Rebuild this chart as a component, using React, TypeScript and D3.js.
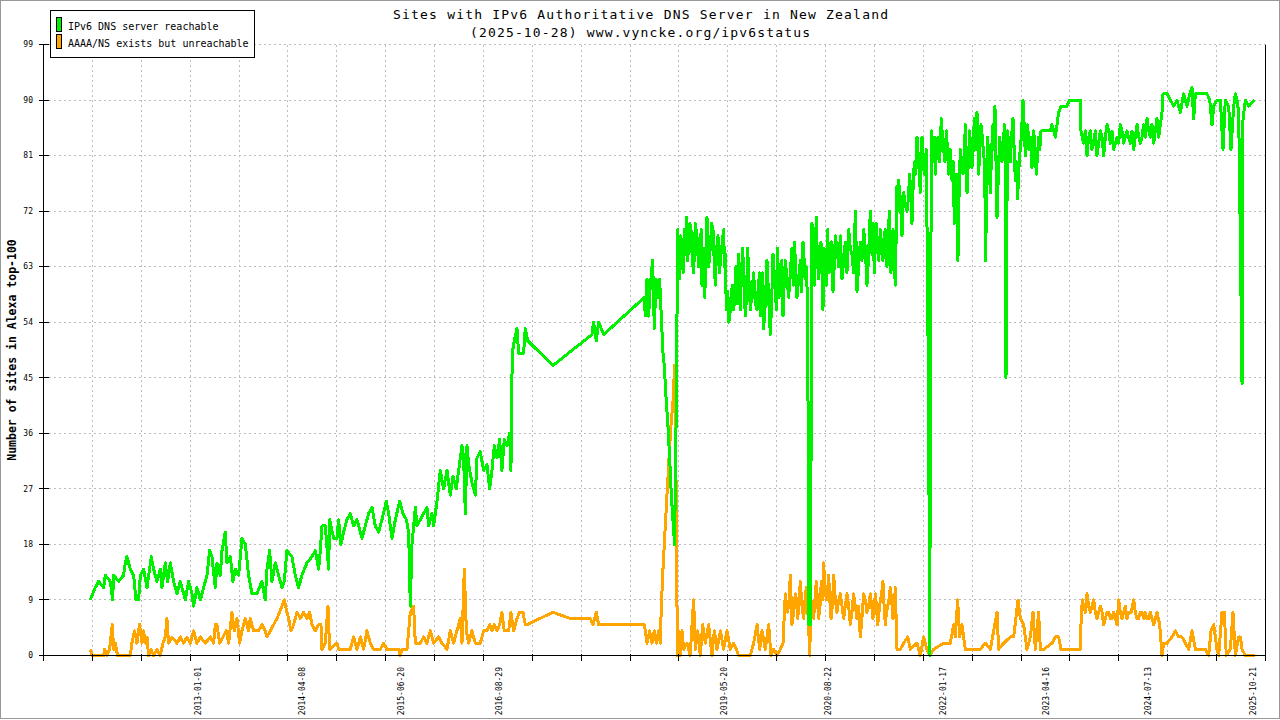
import React from 'react';
import * as d3 from 'd3';

// ---------- data ----------
const TITLE_LINES = [
  'Sites with IPv6 Authoritative DNS Server in New Zealand',
  '(2025-10-28) www.vyncke.org/ipv6status',
];
const Y_TITLE = 'Number of sites in Alexa top-100';
const SERIES_NAMES = ['IPv6 DNS server reachable', 'AAAA/NS exists but unreachable'];
const SERIES_COLORS = ['#00f000', '#ffa500'];

const X_DOMAIN_DATES = ['2011-02-15', '2025-12-14'];
const X_TICK_INTERVALS = 25;
const X_LABEL_DATES = [
  '2013-01-01', '2014-04-08', '2015-06-20', '2016-08-29', '2019-05-20',
  '2020-08-22', '2022-01-17', '2023-04-16', '2024-07-13', '2025-10-21',
];
const Y_MAX = 99;
const Y_TICKS = [0, 9, 18, 27, 36, 45, 54, 63, 72, 81, 90, 99];

// [decimal year, number of sites]
const reachable: [number, number][] = [
  [2011.691,9],[2011.751,11],[2011.792,12],[2011.853,11],[2011.873,13],[2011.934,12],[2011.962,9],[2011.974,13],[2012.035,12],[2012.095,13],[2012.116,15],[2012.136,16],[2012.176,14],[2012.217,13],[2012.245,9],[2012.277,9],[2012.298,13],[2012.338,14],[2012.379,11],[2012.431,16],[2012.459,14],[2012.500,12],[2012.540,14],[2012.560,11],[2012.601,15],[2012.629,12],[2012.662,15],[2012.702,12],[2012.743,10],[2012.783,12],[2012.844,9],[2012.884,12],[2012.925,10],[2012.945,8],[2012.985,11],[2013.026,9],[2013.066,11],[2013.107,13],[2013.139,17],[2013.167,16],[2013.208,11],[2013.228,15],[2013.268,13],[2013.289,17],[2013.329,20],[2013.349,15],[2013.390,16],[2013.422,12],[2013.450,14],[2013.491,13],[2013.531,19],[2013.572,18],[2013.612,13],[2013.653,10],[2013.713,10],[2013.774,12],[2013.814,9],[2013.835,14],[2013.867,17],[2013.895,12],[2013.936,15],[2013.976,13],[2014.017,11],[2014.045,12],[2014.077,17],[2014.138,16],[2014.178,13],[2014.219,11],[2014.259,13],[2014.320,15],[2014.381,16],[2014.421,17],[2014.462,14],[2014.482,17],[2014.502,21],[2014.543,21],[2014.583,14],[2014.595,22],[2014.644,19],[2014.684,19],[2014.704,22],[2014.733,18],[2014.765,20],[2014.805,22],[2014.846,23],[2014.886,21],[2014.927,22],[2014.988,19],[2015.028,21],[2015.068,23],[2015.109,24],[2015.149,21],[2015.190,20],[2015.230,22],[2015.283,25],[2015.311,23],[2015.352,19],[2015.392,22],[2015.445,25],[2015.485,23],[2015.526,22],[2015.554,20],[2015.574,8],[2015.594,18],[2015.635,24],[2015.655,21],[2015.695,22],[2015.736,23],[2015.776,24],[2015.796,21],[2015.837,23],[2015.857,21],[2015.898,25],[2015.938,30],[2015.978,27],[2016.019,30],[2016.059,26],[2016.092,29],[2016.132,27],[2016.161,30],[2016.201,34],[2016.221,32],[2016.242,23],[2016.262,34],[2016.282,31],[2016.322,28],[2016.363,26],[2016.383,32],[2016.423,33],[2016.464,30],[2016.504,31],[2016.537,27],
  [2016.565,30],[2016.593,34],[2016.625,32],[2016.658,35],[2016.686,30],[2016.714,35],[2016.747,34],[2016.779,36],[2016.795,30],[2016.811,49],[2016.836,51],[2016.868,53],[2016.888,49],[2016.949,49],[2016.969,53],[2016.998,51],[2017.305,47],[2017.778,52],[2017.798,54],[2017.831,51],[2017.859,54],[2017.920,52],[2018.413,58],[2018.425,55],[2018.446,61],[2018.466,55],[2018.486,60],[2018.514,64],[2018.535,53],[2018.555,61],[2018.579,58],[2018.599,61],[2018.616,56],[2018.640,49],[2018.656,47],[2018.676,42],[2018.701,37],[2018.721,32],[2018.741,26],[2018.761,22],[2018.781,18],[2018.802,41],[2018.818,69],[2018.842,61],[2018.870,66],[2018.899,69],[2018.923,71],[2018.951,66],[2018.980,69],[2019.012,62],[2019.052,68],[2019.093,66],[2019.113,60],[2019.146,58],[2019.174,71],[2019.214,66],[2019.247,69],[2019.275,60],[2019.307,68],[2019.344,65],[2019.376,69],[2019.396,65],[2019.408,56],[2019.437,54],[2019.465,58],[2019.497,56],[2019.526,63],[2019.558,65],[2019.578,56],[2019.607,66],[2019.639,55],[2019.667,66],[2019.700,56],[2019.740,62],[2019.781,56],[2019.813,62],[2019.841,58],[2019.861,53],[2019.902,64],[2019.942,52],[2019.975,65],[2020.003,59],[2020.031,66],[2020.064,61],[2020.096,55],[2020.124,64],[2020.165,58],[2020.205,66],[2020.234,67],[2020.266,58],[2020.306,64],[2020.339,67],[2020.367,61],[2020.395,56],[2020.411,5],[2020.428,5],[2020.448,70],[2020.476,60],[2020.500,71],[2020.529,61],[2020.557,67],[2020.581,56],[2020.610,63],[2020.638,69],[2020.670,64],[2020.703,59],[2020.731,68],[2020.772,63],[2020.812,61],[2020.852,67],[2020.893,69],[2020.933,65],[2020.974,72],[2020.994,59],[2021.034,67],[2021.075,69],[2021.115,60],
  [2021.156,72],[2021.176,65],[2021.204,62],[2021.228,70],[2021.257,64],[2021.277,69],[2021.309,64],[2021.338,69],[2021.358,63],[2021.386,72],[2021.406,62],[2021.431,69],[2021.459,60],[2021.479,76],[2021.499,77],[2021.540,68],[2021.560,75],[2021.601,72],[2021.633,78],[2021.661,70],[2021.690,80],[2021.722,84],[2021.762,75],[2021.783,84],[2021.811,78],[2021.835,82],[2021.863,41],[2021.876,0],[2021.896,85],[2021.924,82],[2021.944,78],[2021.977,84],[2022.017,87],[2022.045,82],[2022.078,85],[2022.106,78],[2022.147,77],[2022.175,70],[2022.199,78],[2022.219,64],[2022.248,82],[2022.280,78],[2022.308,86],[2022.329,75],[2022.361,85],[2022.389,79],[2022.418,87],[2022.450,88],[2022.470,78],[2022.499,86],[2022.531,81],[2022.555,64],[2022.579,84],[2022.612,75],[2022.644,86],[2022.668,89],[2022.693,71],[2022.725,84],[2022.753,80],[2022.782,86],[2022.802,45],[2022.822,85],[2022.854,80],[2022.887,87],[2022.915,77],[2022.943,74],[2022.968,81],[2023.008,90],[2023.037,81],[2023.065,86],[2023.097,84],[2023.117,79],[2023.138,85],[2023.170,78],[2023.198,84],[2023.227,85],[2023.340,85],[2023.360,86],[2023.401,84],[2023.421,86],[2023.441,88],[2023.469,89],[2023.542,89],[2023.571,90],[2023.704,90],[2023.712,85],[2023.744,83],[2023.785,81],[2023.825,85],[2023.866,83],[2023.906,81],[2023.947,85],[2023.987,81],[2024.028,86],[2024.068,83],[2024.108,82],[2024.149,84],[2024.189,86],[2024.230,83],[2024.270,85],[2024.311,83],[2024.351,82],[2024.392,86],[2024.432,83],[2024.472,86],[2024.513,87],[2024.553,84],[2024.594,83],[2024.634,87],[2024.675,86],[2024.695,88],[2024.707,91],[2024.756,91],[2024.796,90],[2024.837,89],[2024.877,90],[2024.917,88],[2024.958,91],[2024.998,89],[2025.031,91],[2025.059,92],[2025.079,87],[2025.100,91],[2025.241,91],[2025.274,90],[2025.302,86],[2025.322,89],[2025.362,90],[2025.403,90],[2025.435,82],[2025.463,90],[2025.504,89],[2025.532,82],[2025.565,89],[2025.585,91],[2025.605,90],[2025.625,88],[2025.646,67],[2025.666,44],[2025.678,87],[2025.706,90],[2025.747,89],[2025.820,90],
];

// additional readings in the densest, noisiest stretches of the reachable series
const reachableDense: [number, number][] = [
  [2018.830,64],[2018.856,68],[2018.885,62],[2018.911,65],[2018.937,64],[2018.966,70],[2018.996,64],[2019.032,70],[2019.072,63],[2019.103,69],[2019.130,66],[2019.160,64],[2019.194,63],[2019.230,70],[2019.261,64],[2019.291,66],[2019.325,62],[2019.360,67],[2019.386,63],
  [2019.422,59],[2019.451,55],[2019.481,60],[2019.511,58],[2019.542,57],[2019.568,60],[2019.592,62],[2019.623,60],[2019.653,58],[2019.683,61],[2019.720,59],[2019.760,57],[2019.797,60],[2019.827,55],[2019.851,62],[2019.881,57],[2019.922,58],[2019.958,57],[2019.989,62],[2020.017,56],[2020.047,58],[2020.080,64],[2020.110,60],[2020.145,61],[2020.185,62],[2020.220,60],[2020.250,63],[2020.286,61],[2020.322,59],[2020.353,64],[2020.381,63],
  [2020.462,64],[2020.488,65],[2020.514,64],[2020.543,64],[2020.569,62],[2020.595,66],[2020.624,60],[2020.654,62],[2020.686,67],[2020.717,63],[2020.751,66],[2020.792,68],[2020.832,64],[2020.872,62],[2020.913,66],[2020.953,62],[2020.984,66],[2021.014,63],[2021.054,64],[2021.095,66],[2021.135,65],
  [2021.166,67],[2021.190,70],[2021.216,68],[2021.242,66],[2021.267,66],[2021.293,66],[2021.323,68],[2021.348,65],[2021.372,67],[2021.396,66],[2021.418,66],[2021.445,64],[2021.469,68],[2021.489,72],[2021.520,74],[2021.550,72],[2021.580,73],[2021.617,74],[2021.647,75],[2021.675,76],[2021.706,78],[2021.742,80],[2021.772,80],[2021.797,80],[2021.823,80],
  [2021.910,80],[2021.934,84],[2021.960,82],[2021.997,80],[2022.031,84],[2022.061,80],[2022.092,82],[2022.126,82],[2022.161,80],[2022.187,76],[2022.209,74],[2022.234,76],[2022.264,80],[2022.294,80],[2022.318,82],[2022.345,80],[2022.375,82],[2022.404,82],[2022.434,82],[2022.460,84],[2022.485,82],[2022.515,84],[2022.543,80],[2022.567,76],[2022.596,80],[2022.628,82],[2022.656,82],[2022.681,80],[2022.709,78],[2022.739,82],[2022.768,82],[2022.792,80],[2022.812,70],[2022.838,82],[2022.870,84],[2022.901,82],[2022.929,80],[2022.955,78],[2022.988,84],[2023.022,86],[2023.051,83],[2023.081,82],[2023.107,82],[2023.127,82],[2023.154,82],[2023.184,81],[2023.212,82],
  [2023.728,84],[2023.765,85],[2023.805,84],[2023.845,82],[2023.886,85],[2023.926,83],[2023.967,84],[2024.008,84],[2024.048,85],[2024.088,85],[2024.129,83],[2024.169,83],[2024.210,85],[2024.250,84],[2024.290,84],[2024.331,85],[2024.371,84],[2024.412,84],[2024.452,84],[2024.492,84],[2024.533,85],[2024.573,86],[2024.614,85],[2024.655,84],
];

const unreachable: [number, number][] = [
  [2011.691,1],[2011.711,0],[2011.853,0],[2011.865,1],[2011.893,0],[2011.925,1],[2011.958,5],[2011.974,1],[2011.994,2],[2012.022,0],[2012.176,0],[2012.196,2],[2012.229,4],[2012.257,2],[2012.289,5],[2012.318,2],[2012.338,4],[2012.358,2],[2012.379,3],[2012.399,0],[2012.427,1],[2012.459,0],[2012.500,1],[2012.540,0],[2012.573,2],[2012.601,3],[2012.621,6],[2012.641,2],[2012.682,3],[2012.743,2],[2012.783,3],[2012.823,2],[2012.864,3],[2012.904,2],[2012.945,4],[2012.985,2],[2013.026,3],[2013.086,2],[2013.147,3],[2013.187,2],[2013.208,5],[2013.228,5],[2013.260,2],[2013.301,3],[2013.341,4],[2013.370,2],[2013.410,7],[2013.438,4],[2013.471,6],[2013.503,2],[2013.531,4],[2013.572,6],[2013.612,4],[2013.632,6],[2013.673,4],[2013.733,4],[2013.774,5],[2013.814,4],[2013.835,3],[2013.875,4],[2013.916,5],[2013.956,6],[2013.988,7],[2014.017,8],[2014.045,9],[2014.077,7],[2014.098,6],[2014.126,4],[2014.158,5],[2014.199,7],[2014.239,6],[2014.280,7],[2014.320,6],[2014.352,7],[2014.381,5],[2014.421,4],[2014.462,5],[2014.490,5],[2014.502,1],[2014.543,2],[2014.575,8],[2014.595,1],[2014.684,2],[2014.704,1],[2014.846,1],[2014.886,3],[2014.927,1],[2014.967,3],[2015.008,1],[2015.048,4],[2015.089,2],[2015.129,1],[2015.210,1],[2015.250,2],[2015.291,1],[2015.432,1],[2015.453,0],[2015.473,1],[2015.534,1],[2015.554,4],[2015.574,7],[2015.614,8],[2015.635,2],[2015.695,2],[2015.736,3],[2015.776,2],[2015.817,4],[2015.857,2],[2015.918,3],[2015.958,2],[2016.019,1],[2016.059,4],[2016.100,2],[2016.140,4],[2016.181,6],[2016.201,2],[2016.229,14],[2016.254,4],[2016.282,2],[2016.322,4],[2016.363,2],[2016.423,2],[2016.464,4],[2016.504,4],[2016.537,5],
  [2016.565,4],[2016.593,5],[2016.625,4],[2016.658,5],[2016.686,7],[2016.714,4],[2016.767,4],[2016.795,7],[2016.828,4],[2016.868,6],[2016.900,7],[2016.941,7],[2016.969,5],[2016.989,5],[2017.305,7],[2017.515,6],[2017.758,6],[2017.790,5],[2017.831,7],[2017.859,5],[2018.413,5],[2018.425,4],[2018.446,2],[2018.478,4],[2018.506,2],[2018.535,4],[2018.559,2],[2018.587,4],[2018.607,2],[2018.620,8],[2018.640,14],[2018.660,19],[2018.680,24],[2018.701,29],[2018.721,34],[2018.741,38],[2018.761,41],[2018.781,47],[2018.802,24],[2018.814,0],[2018.830,4],[2018.850,0],[2018.870,4],[2018.891,1],[2018.931,2],[2018.971,0],[2018.992,5],[2019.012,9],[2019.032,1],[2019.060,4],[2019.093,0],[2019.121,5],[2019.153,2],[2019.194,5],[2019.234,0],[2019.263,4],[2019.295,1],[2019.336,4],[2019.376,1],[2019.417,4],[2019.457,1],[2019.497,2],[2019.530,1],[2019.558,0],[2019.700,0],[2019.740,2],[2019.781,5],[2019.813,1],[2019.841,4],[2019.882,1],[2019.922,5],[2019.950,0],[2019.983,1],[2020.023,0],[2020.064,1],[2020.096,2],[2020.124,10],[2020.153,7],[2020.185,13],[2020.205,5],[2020.246,10],[2020.274,6],[2020.306,12],[2020.347,6],[2020.379,11],[2020.407,5],[2020.420,0],[2020.436,9],[2020.468,6],[2020.500,12],[2020.529,6],[2020.561,12],[2020.589,15],[2020.622,9],[2020.650,13],[2020.679,6],[2020.711,13],[2020.751,7],[2020.792,10],[2020.832,6],[2020.873,10],[2020.913,5],[2020.953,10],[2020.994,6],[2021.034,3],[2021.075,10],[2021.115,7],
  [2021.156,10],[2021.188,6],[2021.216,10],[2021.245,5],[2021.277,9],[2021.309,12],[2021.338,5],[2021.366,8],[2021.398,11],[2021.431,6],[2021.459,11],[2021.479,1],[2021.520,1],[2021.560,2],[2021.609,3],[2021.641,1],[2021.722,2],[2021.762,0],[2021.803,3],[2021.843,1],[2021.876,0],[2021.924,1],[2022.045,2],[2022.126,2],[2022.167,5],[2022.187,3],[2022.215,9],[2022.240,3],[2022.268,5],[2022.308,1],[2022.369,1],[2022.490,1],[2022.551,2],[2022.612,1],[2022.693,7],[2022.713,1],[2022.774,2],[2022.854,3],[2022.895,3],[2022.948,9],[2022.976,6],[2023.016,5],[2023.057,1],[2023.097,3],[2023.130,7],[2023.158,1],[2023.198,7],[2023.219,1],[2023.259,1],[2023.360,2],[2023.401,3],[2023.441,3],[2023.469,1],[2023.583,1],[2023.704,1],[2023.716,7],[2023.744,8],[2023.785,10],[2023.825,7],[2023.866,9],[2023.906,6],[2023.947,8],[2023.987,5],[2024.028,7],[2024.068,6],[2024.108,7],[2024.149,5],[2024.169,9],[2024.210,6],[2024.250,8],[2024.290,7],[2024.351,9],[2024.392,6],[2024.432,7],[2024.472,6],[2024.513,6],[2024.553,7],[2024.594,5],[2024.634,7],[2024.667,5],[2024.695,0],[2024.715,2],[2024.756,2],[2024.816,3],[2024.857,4],[2024.897,3],[2024.938,3],[2024.978,2],[2025.019,1],[2025.059,4],[2025.100,1],[2025.221,1],[2025.261,0],[2025.290,4],[2025.322,5],[2025.362,1],[2025.382,0],[2025.423,7],[2025.451,7],[2025.475,0],[2025.524,1],[2025.556,7],[2025.585,0],[2025.625,3],[2025.646,3],[2025.666,1],[2025.706,0],[2025.820,0],
];

// additional readings in the densest stretches of the unreachable series
const unreachableDense: [number, number][] = [
  [2020.138,8],[2020.169,9],[2020.195,9],[2020.226,7],[2020.260,9],[2020.290,8],[2020.327,8],[2020.363,9],[2020.393,8],[2020.452,8],[2020.484,9],[2020.514,9],[2020.545,8],[2020.575,9],[2020.606,11],[2020.636,10],[2020.664,9],[2020.695,8],[2020.731,9],[2020.772,9],[2020.812,8],[2020.852,8],[2020.893,8],[2020.933,7],[2020.974,8],[2021.014,8],[2021.054,6],[2021.095,9],[2021.135,8],[2021.172,8],[2021.202,7],[2021.230,8],[2021.261,7],[2021.293,10],[2021.323,8],[2021.352,7],[2021.382,9],[2021.414,9],[2021.445,8],
  [2023.730,9],[2023.765,7],[2023.805,8],[2023.845,8],[2023.886,7],[2023.926,7],[2023.967,7],[2024.008,6],[2024.048,7],[2024.088,6],[2024.129,6],[2024.159,7],[2024.190,7],[2024.230,7],[2024.270,6],[2024.320,7],[2024.371,7],[2024.412,6],[2024.452,7],[2024.492,7],[2024.533,6],[2024.573,6],[2024.614,6],[2024.650,6],
];

// ---------- helpers ----------
function toYear(s: string): number {
  const t = Date.parse(s + 'T00:00:00Z');
  const yr = new Date(t).getUTCFullYear();
  const a = Date.UTC(yr, 0, 1);
  const b = Date.UTC(yr + 1, 0, 1);
  return yr + (t - a) / (b - a);
}

const FONT = '"DejaVu Sans Mono", "Liberation Mono", monospace';

export default function App() {
  const W = 1280;
  const H = 720;
  const left = 43.5, right = 1265.5, top = 44.5, bottom = 655.5;

  const xDomain = X_DOMAIN_DATES.map(toYear);
  const x = d3.scaleLinear().domain(xDomain).range([left, right]);
  const y = d3.scaleLinear().domain([0, Y_MAX]).range([bottom, top]);

  const xTicks = d3.range(X_TICK_INTERVALS + 1).map(
    (i) => xDomain[0] + (i * (xDomain[1] - xDomain[0])) / X_TICK_INTERVALS
  );

  const line = d3
    .line<[number, number]>()
    .x((d) => x(d[0]))
    .y((d) => y(d[1]));

  const series = [
    d3.sort([...reachable, ...reachableDense], (d) => d[0]),
    d3.sort([...unreachable, ...unreachableDense], (d) => d[0]),
  ];
  const drawOrder = [1, 0];

  return (
    <svg
      width={W}
      height={H}
      style={{ position: 'absolute', left: 0, top: 0, display: 'block', background: '#fff' }}
    >
      <rect x={0.5} y={0.5} width={W - 1} height={H - 2} fill="#fff" stroke="#999" strokeWidth={1} />

      {/* grid */}
      <g stroke="#bdbdbd" strokeWidth={1} strokeDasharray="2,3" shapeRendering="crispEdges">
        {Y_TICKS.filter((v) => v > 0).map((v) => (
          <line key={'gy' + v} x1={left} x2={right} y1={y(v)} y2={y(v)} />
        ))}
        {xTicks.slice(1, -1).map((t, i) => (
          <line key={'gx' + i} x1={x(t)} x2={x(t)} y1={top} y2={bottom} />
        ))}
      </g>

      {/* series */}
      {drawOrder.map((si) => (
        <path
          key={'s' + si}
          d={line(series[si] as [number, number][]) || ''}
          fill="none"
          stroke={SERIES_COLORS[si]}
          strokeWidth={3}
          strokeLinejoin="round"
          shapeRendering="crispEdges"
        />
      ))}

      {/* axes */}
      <g stroke="#000" strokeWidth={1} shapeRendering="crispEdges">
        <line x1={left} x2={right} y1={bottom} y2={bottom} />
        <line x1={left} x2={left} y1={top} y2={bottom} />
        <line x1={right} x2={right} y1={top} y2={bottom} />
        {Y_TICKS.map((v) => (
          <line key={'ty' + v} x1={left - 5} x2={left + 5} y1={y(v)} y2={y(v)} />
        ))}
        {xTicks.map((t, i) => (
          <line key={'tx' + i} x1={x(t)} x2={x(t)} y1={bottom - 2} y2={bottom + 5} />
        ))}
      </g>

      {/* tick labels */}
      <g fontFamily={FONT} fontSize={8} fill="#000">
        {Y_TICKS.map((v) => (
          <text key={'ly' + v} x={left - 10.5} y={y(v)} dy="0.35em" textAnchor="end">
            {v}
          </text>
        ))}
        {X_LABEL_DATES.map((s) => (
          <text
            key={'lx' + s}
            transform={`translate(${x(toYear(s))},667) rotate(-90)`}
            dy="0.35em"
            textAnchor="end"
          >
            {s}
          </text>
        ))}
      </g>

      {/* y title */}
      <text
        transform="translate(12,350) rotate(-90)"
        dy="0.35em"
        textAnchor="middle"
        fontFamily={FONT}
        fontSize={11.5}
        fontWeight="bold"
        fill="#000"
      >
        {Y_TITLE}
      </text>

      {/* title */}
      <g fontFamily={FONT} fontSize={13} fill="#000" textAnchor="middle">
        <text x={640.5} y={18.5} textLength={495} lengthAdjust="spacing">
          {TITLE_LINES[0]}
        </text>
        <text x={640} y={37} textLength={340} lengthAdjust="spacing">
          {TITLE_LINES[1]}
        </text>
      </g>

      {/* legend */}
      <g fontFamily={FONT} fontSize={10}>
        <rect x={50.5} y={10.5} width={204} height={47} fill="#fff" stroke="#000" />
        {SERIES_NAMES.map((n, i) => (
          <g key={'lg' + i}>
            <rect x={56.5} y={17.5 + i * 17} width={5} height={14} fill={SERIES_COLORS[i]} stroke="#000" />
            <text x={68} y={26 + i * 17} dy="0.35em" fill="#000">
              {n}
            </text>
          </g>
        ))}
      </g>
    </svg>
  );
}
